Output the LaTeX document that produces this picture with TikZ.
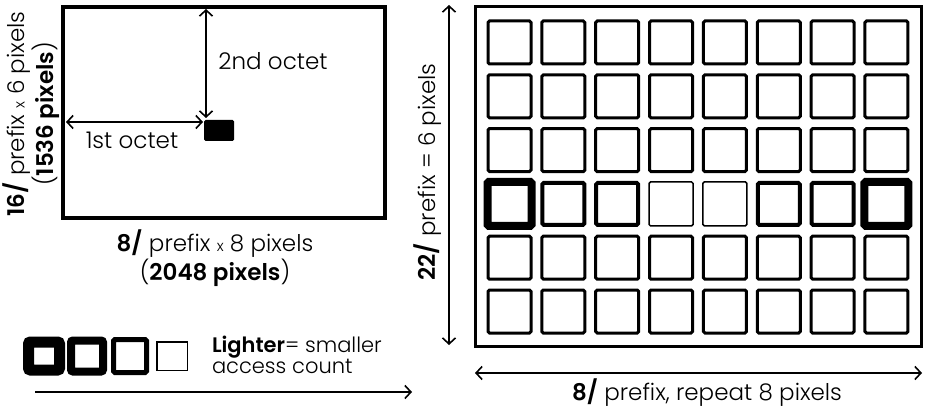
\documentclass[tikz,border=0pt]{standalone}
\usepackage{fontspec}
\setmainfont{Poppins}[UprightFont={* Light}, BoldFont={* SemiBold}]
\usetikzlibrary{arrows.meta}
\begin{document}
\begin{tikzpicture}[x=1pt,y=-1pt,
  every node/.style={inner sep=0pt, outer sep=0pt},
  lbl/.style={font=\fontsize{23}{27}\selectfont, align=center},
  cell/.style={draw, minimum size=43pt, line width=3pt, rounded corners=1.5pt},
  barb/.tip={Straight Barb[length=6pt,width=13pt,line width=1.6pt]},
  dimline/.style={line width=1.6pt, barb-barb},
  oneway/.style={line width=1.6pt, -barb},
]
\useasboundingbox (0,0) rectangle (927,409);

% ---- address space overview (left) ----
\node[draw, line width=4pt, minimum width=322pt, minimum height=211pt] (screen) at (224,112.5) {};
\node[fill=black, minimum width=30pt, minimum height=21pt, rounded corners=1.5pt] (blk) at (219,130.5) {};
\coordinate (blktop) at (206,118);
\coordinate (blkleft) at (203,122);
\coordinate (scrtop) at (206,9);
\coordinate (scrleft) at (66,122);
\draw[dimline] (scrtop) -- (blktop);
\draw[dimline] (scrleft) -- (blkleft);
\node[lbl] (oct2) at (273,61) {2nd octet};
\node[lbl] (oct1) at (132,140) {1st octet};
\node[lbl, rotate=90] (ylab) at (31,114) {\textbf{16/} prefix {\fontsize{15}{15}\selectfont x} 6 pixels\\(\textbf{1536 pixels})};
\node[lbl] (xlab) at (215,258) {\textbf{8/} prefix {\fontsize{15}{15}\selectfont x} 8 pixels\\(\textbf{2048 pixels})};

% ---- heat map of /22 blocks (right) ----
\node[draw, line width=3pt, minimum width=446pt, minimum height=340pt] (grid) at (698.5,176.5) {};
\foreach \r in {1,2,3,5,6}{
  \foreach \c in {1,...,8}{
    \node[cell] (c-\r-\c) at ({509.5+(\c-1)*53.85},{42.5+(\r-1)*53.8}) {};
  }
}
\foreach \c/\w/\s in {1/8/44, 2/4/42, 3/4/42, 4/1.5/44, 5/1.5/44, 6/4/42, 7/4/42, 8/8/44}{
  \node[cell, line width=\w pt, minimum size=\s pt] (c-4-\c) at ({509.5+(\c-1)*53.85},{42.5+3*53.8}) {};
}
\coordinate (gtop) at (449,5);
\coordinate (gbot) at (449,345);
\draw[dimline] (gtop) -- (gbot);
\coordinate (gleft) at (475,373);
\coordinate (gright) at (922,373);
\draw[dimline] (gleft) -- (gright);
\node[lbl, rotate=90] (glab) at (428,172) {\textbf{22/} prefix = 6 pixels};
\node[lbl] (gxlab) at (707,393) {\textbf{8/} prefix, repeat 8 pixels};

% ---- legend ----
\node[draw, line width=11pt, minimum width=31pt, minimum height=28pt, rounded corners=2pt] (leg1) at (44,356) {};
\node[draw, line width=8pt, minimum width=32pt, minimum height=31pt, rounded corners=2pt] (leg2) at (87,356) {};
\node[draw, line width=5pt, minimum width=33pt, minimum height=33pt, rounded corners=1.5pt] (leg3) at (130,356) {};
\node[draw, line width=1.5pt, minimum width=30.5pt, minimum height=28.5pt] (leg4) at (172,356) {};
\node[font=\fontsize{21}{21}\selectfont, align=left, anchor=west] (legtxt) at (212,355) {\textbf{Lighter}= smaller\\access count};
\coordinate (lega) at (35,392);
\coordinate (legb) at (412,392);
\draw[oneway] (lega) -- (legb);
\end{tikzpicture}
\end{document}
